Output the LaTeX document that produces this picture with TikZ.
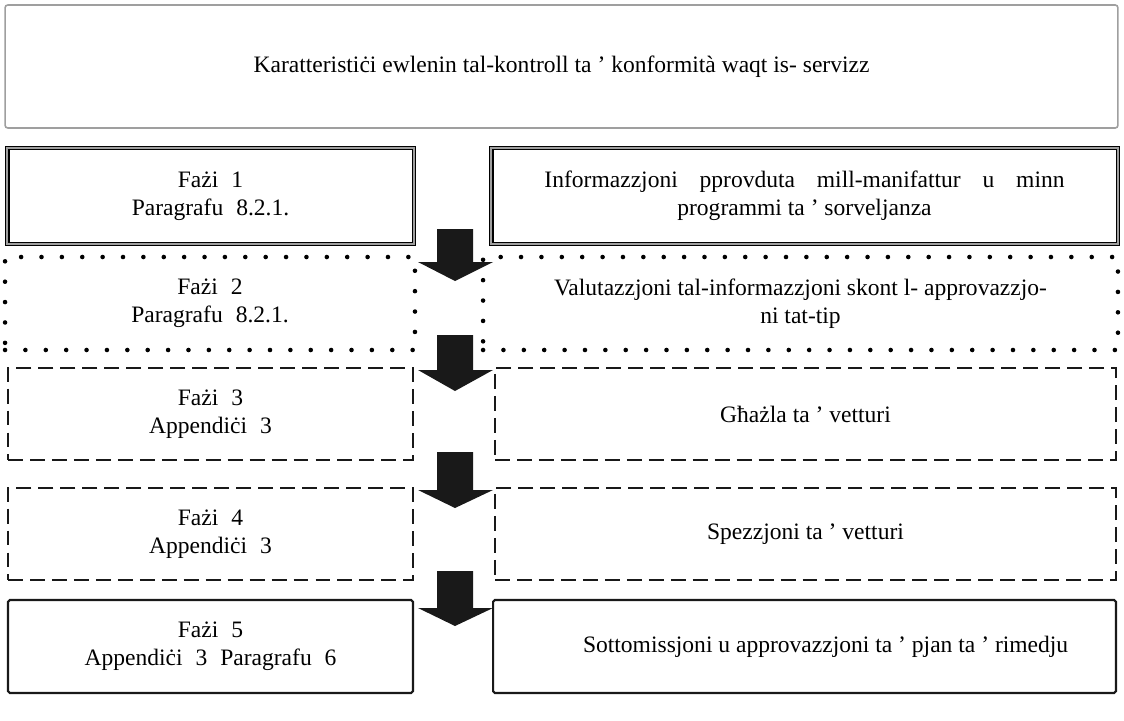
\documentclass[tikz,border=0pt]{standalone}
\usepackage{fontspec}
\setmainfont{Liberation Serif}
\newcommand\wsp{\hspace{0.55em}}
\newcommand\blkarrow[4]{\fill[blockarrow] (437,#1) -- (473,#1) -- (473,#2) -- (493,#2) -- (455,#3) -- (418,#2) -- (437,#2) -- cycle; \coordinate (#4) at (455,#3);}
\begin{document}
\begin{tikzpicture}[x=0.02cm,y=-0.02cm,
  every node/.style={font=\fontsize{13.4}{16.2}\selectfont, align=center, inner sep=0pt},
  topbox/.style={draw=gray!75, line width=0.9pt, rounded corners=1.5pt},
  dblbox/.style={draw=black, line width=1.0pt, double=gray!75, double distance=0.8pt},
  dotbox/.style={draw=black, line width=2.6pt, line cap=round, dash pattern=on 0pt off 11.6pt},
  dashbox/.style={draw=black!90, line width=1.5pt, dash pattern=on 8.5pt off 4pt},
  solidbox/.style={draw=black!90, line width=1.2pt, rounded corners=1pt},
  blockarrow/.style={fill=black!90}
]
\useasboundingbox (0,0) rectangle (1124,720);
\fill[white] (0,0) rectangle (1124,720);

\node[topbox, minimum width=22.26cm, minimum height=2.46cm] (title) at (561.5,66.5)
  {Karatteristiċi ewlenin tal-kontroll ta ' konformità waqt is- servizz};

% row 1
\node[dblbox, minimum width=8.14cm, minimum height=1.92cm] (l1) at (210.5,196)
  {Fażi\wsp 1\\Paragrafu\wsp 8.2.1.};
\node[dblbox, minimum width=12.54cm, minimum height=1.92cm] (r1) at (804.5,196)
  {\makebox[296pt][s]{Informazzjoni pprovduta mill-manifattur u minn}\\programmi ta ' sorveljanza};

% row 2
\node[dotbox, minimum width=8.2cm, minimum height=1.86cm] (l2) at (210,303.5)
  {Fażi\wsp 2\\Paragrafu\wsp 8.2.1.};
\node[dotbox, minimum width=12.7cm, minimum height=1.86cm] (r2) at (800.5,303.5)
  {Valutazzjoni tal-informazzjoni skont l- approvazzjo-\\ni tat-tip};

% row 3
\node[dashbox, minimum width=8.1cm, minimum height=1.84cm] (l3) at (210.5,414)
  {Fażi\wsp 3\\Appendiċi\wsp 3};
\node[dashbox, minimum width=12.42cm, minimum height=1.84cm] (r3) at (805.5,414)
  {Għażla ta ' vetturi};

% row 4
\node[dashbox, minimum width=8.1cm, minimum height=1.84cm] (l4) at (210.5,534)
  {Fażi\wsp 4\\Appendiċi\wsp 3};
\node[dashbox, minimum width=12.42cm, minimum height=1.84cm] (r4) at (805.5,534)
  {Spezzjoni ta ' vetturi};

% row 5
\node[solidbox, minimum width=8.1cm, minimum height=1.86cm] (l5) at (210.5,646.5)
  {Fażi\wsp 5\\Appendiċi\wsp 3\wsp Paragrafu\wsp 6};
\node[solidbox, minimum width=12.46cm, minimum height=1.86cm] (r5) at (804.5,646.5)
  {\hspace{24pt}Sottomissjoni u approvazzjoni ta ' pjan ta ' rimedju};

% block arrows
\blkarrow{229}{262}{281}{a1}
\blkarrow{335}{370}{391}{a2}
\blkarrow{452}{490}{508}{a3}
\blkarrow{571}{608}{626}{a4}
\end{tikzpicture}
\end{document}
